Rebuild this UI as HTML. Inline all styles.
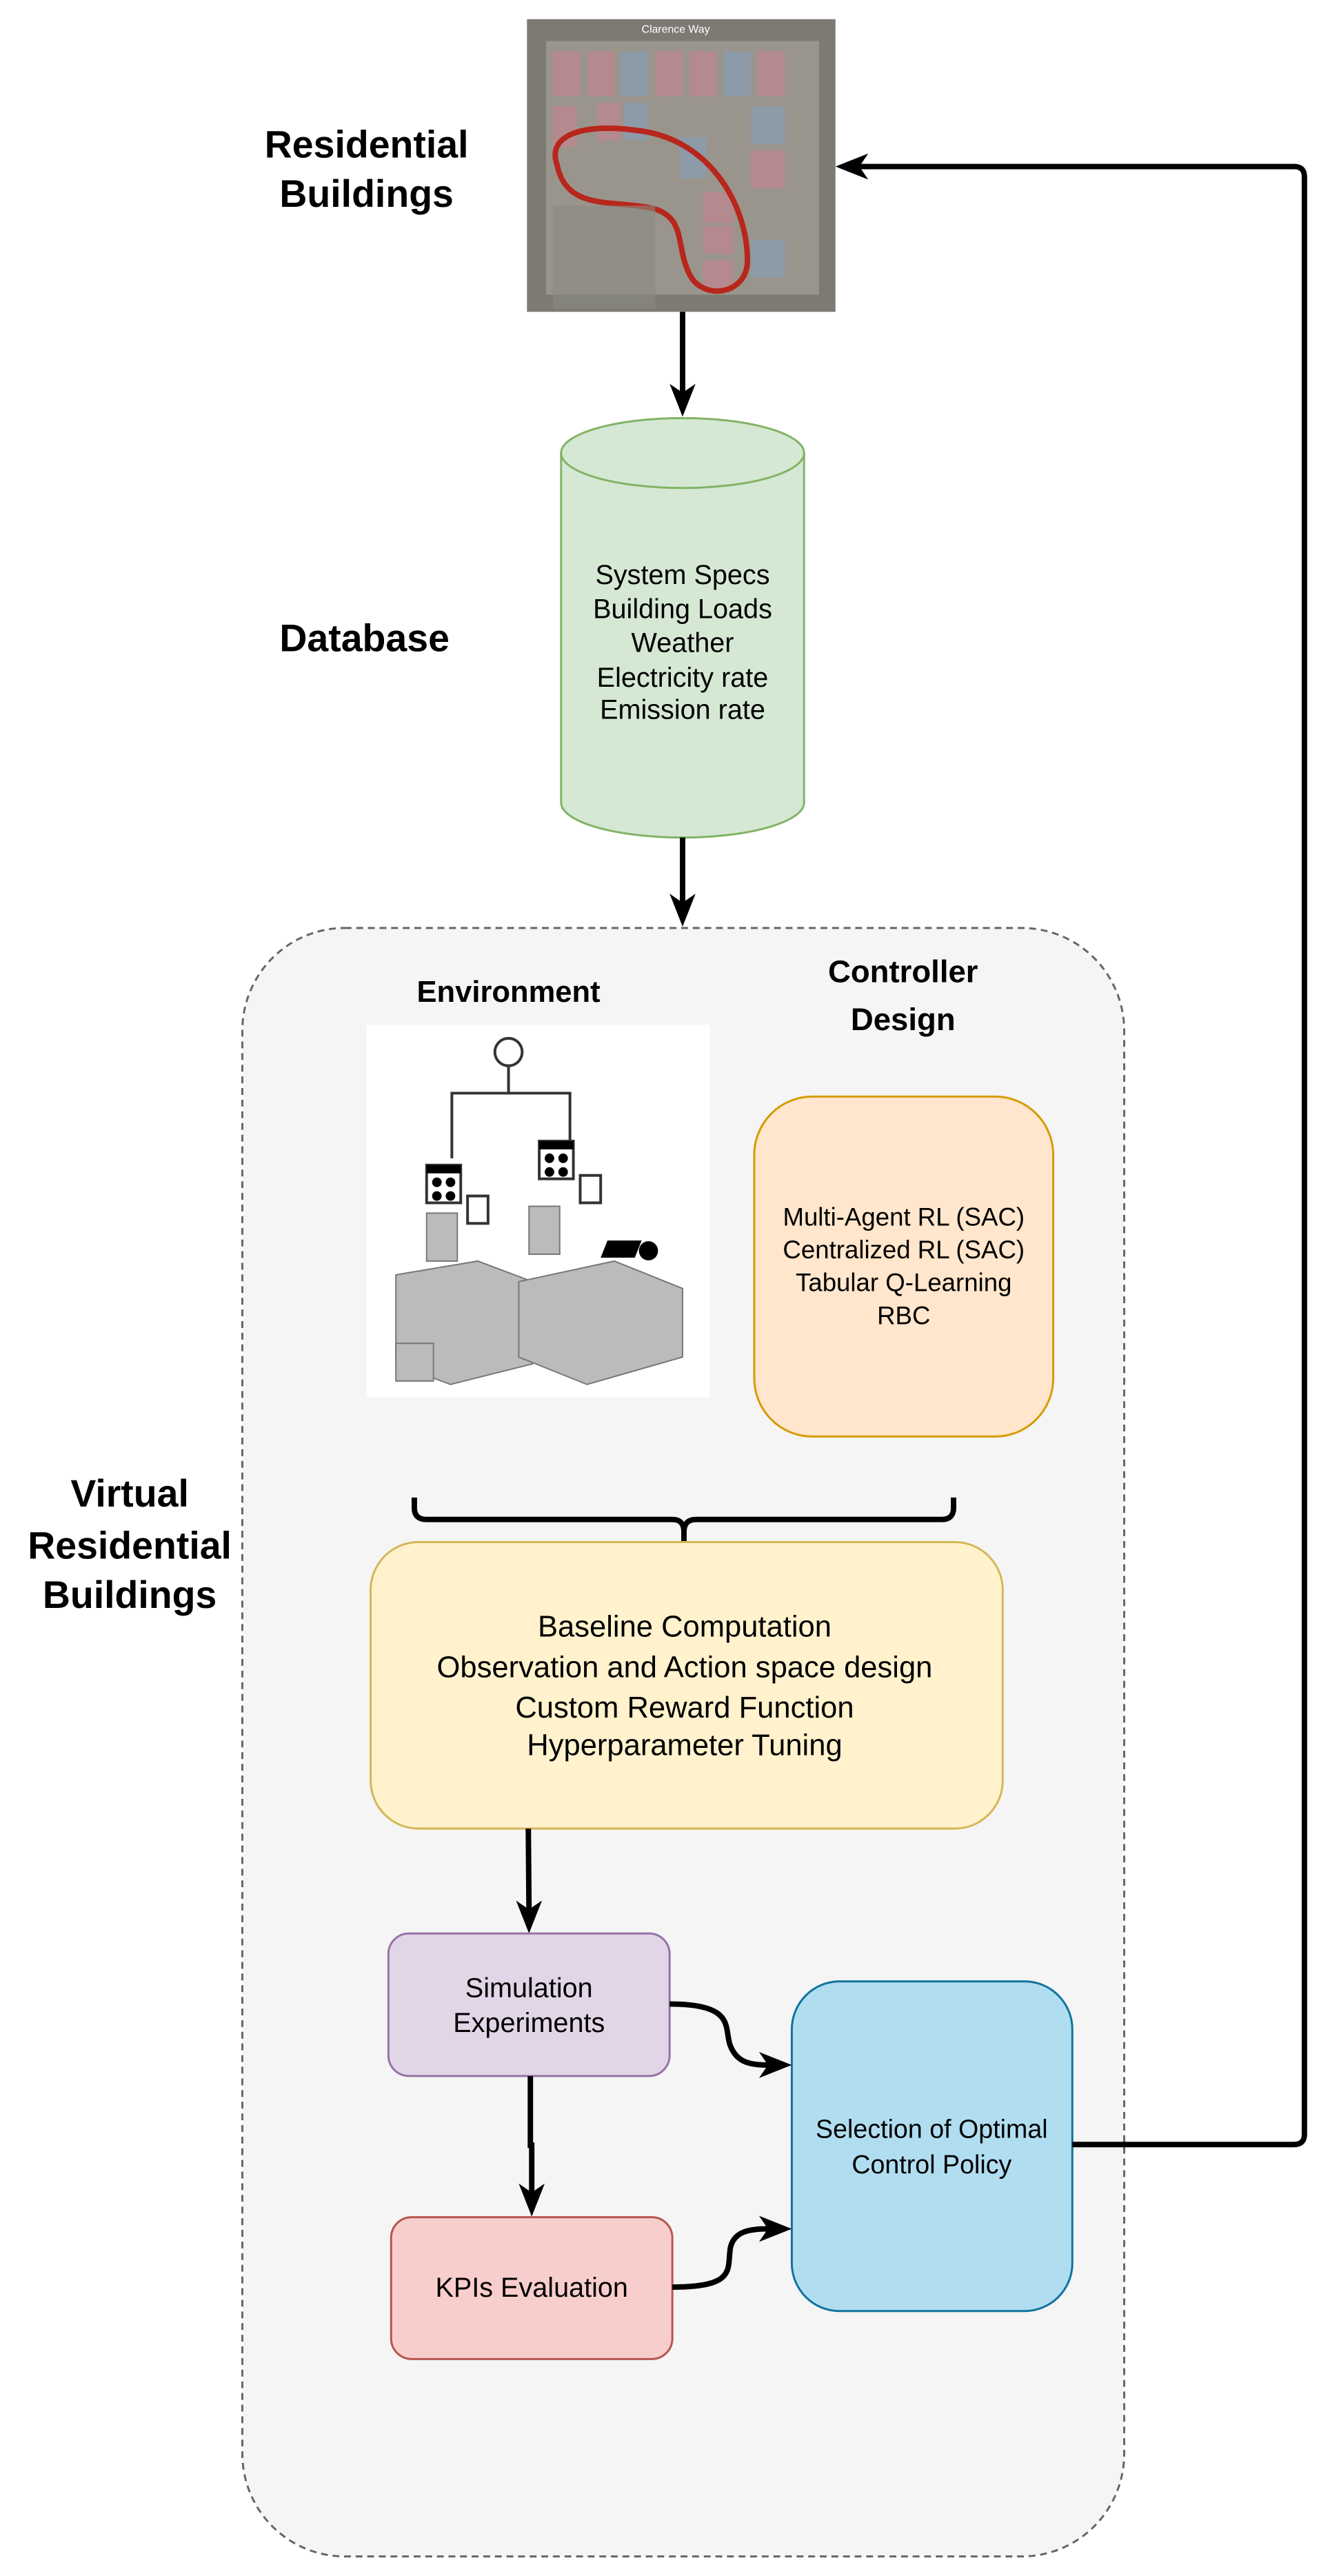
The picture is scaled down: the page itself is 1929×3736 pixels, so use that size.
<!DOCTYPE html>
<html><head><meta charset="utf-8"><style>
html,body{margin:0;padding:0;background:#fff;}
svg{display:block;}
text{font-family:"Liberation Sans",Arial,sans-serif;}
.b{font-weight:bold;fill:#000;}
</style></head><body>
<svg width="1929" height="3736" viewBox="0 0 1929 3736" xmlns="http://www.w3.org/2000/svg">
<g transform="scale(0.99,0.994)">
<!-- container -->
<rect x="355" y="1354" width="1292" height="2376" rx="150" fill="#f5f5f5" stroke="#666" stroke-width="3" stroke-dasharray="10,7"/>

<!-- Residential Buildings label -->
<text class="b" x="537" y="230" font-size="56" text-anchor="middle">Residential</text>
<text class="b" x="537" y="302" font-size="56" text-anchor="middle">Buildings</text>

<!-- aerial image -->
<g>
<rect x="772" y="28" width="452" height="427" fill="#7d7a74"/>
<rect x="800" y="60" width="400" height="370" fill="#9a958c"/>
<g fill="#b48a8e">
<rect x="810" y="75" width="40" height="65"/><rect x="860" y="75" width="40" height="65"/>
<rect x="960" y="75" width="40" height="65"/><rect x="1010" y="75" width="40" height="65"/>
<rect x="1110" y="75" width="40" height="65"/>
<rect x="810" y="155" width="35" height="60"/><rect x="875" y="150" width="35" height="55"/>
<rect x="1100" y="220" width="50" height="55"/><rect x="1030" y="280" width="45" height="45"/>
<rect x="1030" y="330" width="45" height="40"/><rect x="1030" y="380" width="45" height="40"/>
</g>
<g fill="#8d9aa8">
<rect x="910" y="75" width="40" height="65"/><rect x="1060" y="75" width="40" height="65"/>
<rect x="915" y="150" width="35" height="55"/><rect x="1100" y="155" width="50" height="55"/>
<rect x="1100" y="350" width="50" height="55"/><rect x="995" y="200" width="40" height="60"/>
</g>
<path d="M816,240 C800,195 860,180 930,190 C1040,200 1095,300 1095,380 C1095,430 1030,440 1010,400 C990,360 1005,320 960,305 C900,290 830,310 816,240 Z" fill="none" stroke="#b8261c" stroke-width="8"/>
<rect x="810" y="300" width="150" height="150" fill="#8a8a80" opacity="0.6"/>
<text x="990" y="48" font-size="16" fill="#fff" text-anchor="middle">Clarence Way</text>
</g>

<!-- arrow image -> db -->
<line x1="1000" y1="455" x2="1000" y2="575" stroke="#000" stroke-width="8"/>
<path d="M1000,608 L981,560 L1000,573 L1019,560 Z" fill="#000"/>

<!-- Database label -->
<text class="b" x="534" y="950" font-size="56" text-anchor="middle">Database</text>

<!-- cylinder -->
<path d="M822,661 L822,1171 A178,51 0 0 0 1178,1171 L1178,661" fill="#d5e8d4" stroke="#82b366" stroke-width="3"/>
<ellipse cx="1000" cy="661" rx="178" ry="51" fill="#d5e8d4" stroke="#82b366" stroke-width="3"/>
<g font-size="40" text-anchor="middle" fill="#000">
<text x="1000" y="852">System  Specs</text>
<text x="1000" y="902">Building Loads</text>
<text x="1000" y="951">Weather</text>
<text x="1000" y="1002">Electricity rate</text>
<text x="1000" y="1049">Emission rate</text>
</g>

<!-- arrow db -> container -->
<line x1="1000" y1="1222" x2="1000" y2="1320" stroke="#000" stroke-width="8"/>
<path d="M1000,1352 L981,1304 L1000,1317 L1019,1304 Z" fill="#000"/>

<!-- Environment -->
<text class="b" x="745" y="1462" font-size="44" text-anchor="middle">Environment</text>
<rect x="537" y="1495" width="503" height="544" fill="#fff"/>
<g stroke="#333" stroke-width="4" fill="none">
<circle cx="745" cy="1535" r="20"/>
<path d="M745,1555 V1595 M662,1640 V1595 H835 V1640"/>
<path d="M662,1640 V1690 M835,1640 V1690"/>
<rect x="625" y="1700" width="50" height="55" fill="#fff"/>
<rect x="790" y="1665" width="50" height="55" fill="#fff"/>
<rect x="685" y="1745" width="30" height="40"/>
<rect x="850" y="1715" width="30" height="40"/>
</g>
<g fill="#000">
<rect x="625" y="1700" width="50" height="12"/><rect x="790" y="1665" width="50" height="12"/>
<circle cx="640" cy="1725" r="7"/><circle cx="660" cy="1725" r="7"/><circle cx="640" cy="1745" r="7"/><circle cx="660" cy="1745" r="7"/>
<circle cx="805" cy="1690" r="7"/><circle cx="825" cy="1690" r="7"/><circle cx="805" cy="1710" r="7"/><circle cx="825" cy="1710" r="7"/>
<circle cx="950" cy="1825" r="14"/>
<polygon points="890,1810 940,1810 930,1835 880,1835"/>
</g>
<g fill="#bbb" stroke="#777" stroke-width="2">
<rect x="625" y="1770" width="45" height="70"/>
<rect x="775" y="1760" width="45" height="70"/>
<path d="M580,1860 L700,1840 L780,1870 L780,1990 L660,2020 L580,1990 Z"/>
<path d="M760,1870 L900,1840 L1000,1880 L1000,1980 L860,2020 L760,1980 Z"/>
<rect x="580" y="1960" width="55" height="55"/>
</g>

<!-- Controller Design -->
<text class="b" x="1323" y="1433" font-size="46" text-anchor="middle">Controller</text>
<text class="b" x="1323" y="1503" font-size="46" text-anchor="middle">Design</text>
<rect x="1105" y="1600" width="438" height="496" rx="85" fill="#ffe6cc" stroke="#d79b00" stroke-width="3"/>
<g font-size="37" text-anchor="middle" fill="#000">
<text x="1324" y="1788">Multi-Agent RL (SAC)</text>
<text x="1324" y="1836">Centralized RL (SAC)</text>
<text x="1324" y="1884">Tabular Q-Learning</text>
<text x="1324" y="1932">RBC</text>
</g>

<!-- Virtual Residential Buildings -->
<text class="b" x="190" y="2198" font-size="56" text-anchor="middle">Virtual</text>
<text class="b" x="190" y="2274" font-size="56" text-anchor="middle">Residential</text>
<text class="b" x="190" y="2346" font-size="56" text-anchor="middle">Buildings</text>

<!-- brace -->
<path d="M607,2185 V2200 Q607,2217 625,2217 H985 Q1002,2217 1002,2235 V2250 M1002,2235 Q1002,2217 1020,2217 H1380 Q1397,2217 1397,2200 V2185" fill="none" stroke="#000" stroke-width="8"/>

<!-- yellow box -->
<rect x="543" y="2250" width="926" height="418" rx="70" fill="#fff2cc" stroke="#d6b656" stroke-width="3"/>
<g font-size="44" text-anchor="middle" fill="#000">
<text x="1003" y="2388">Baseline Computation</text>
<text x="1003" y="2447">Observation and Action space design</text>
<text x="1003" y="2506">Custom Reward Function</text>
<text x="1003" y="2561">Hyperparameter Tuning</text>
</g>

<!-- arrow yellow -> sim -->
<line x1="774" y1="2668" x2="775" y2="2790" stroke="#000" stroke-width="8"/>
<path d="M775,2821 L756,2773 L775,2786 L794,2773 Z" fill="#000"/>

<!-- sim box -->
<rect x="569" y="2821" width="412" height="208" rx="30" fill="#e1d5e7" stroke="#9673a6" stroke-width="3"/>
<g font-size="40" text-anchor="middle" fill="#000">
<text x="775" y="2914">Simulation</text>
<text x="775" y="2965">Experiments</text>
</g>

<!-- arrow sim -> kpi -->
<path d="M777,3029 V3130 H779 V3200" fill="none" stroke="#000" stroke-width="8"/>
<path d="M779,3234 L760,3186 L779,3199 L798,3186 Z" fill="#000"/>

<!-- kpi box -->
<rect x="573" y="3235" width="412" height="207" rx="30" fill="#f8cecc" stroke="#b85450" stroke-width="3"/>
<text x="779" y="3351" font-size="40" text-anchor="middle" fill="#000">KPIs Evaluation</text>

<!-- selection box -->
<rect x="1160" y="2891" width="411" height="481" rx="70" fill="#b1ddf0" stroke="#10739e" stroke-width="3"/>
<g font-size="38" text-anchor="middle" fill="#000">
<text x="1365" y="3119">Selection of Optimal</text>
<text x="1365" y="3171">Control Policy</text>
</g>

<!-- curved arrows -->
<path d="M981,2924 C1080,2924 1060,2960 1070,2985 C1080,3010 1100,3013 1125,3013" fill="none" stroke="#000" stroke-width="8"/>
<path d="M1160,3013 L1112,2994 L1125,3013 L1112,3032 Z" fill="#000"/>
<path d="M985,3337 C1080,3337 1065,3310 1070,3280 C1075,3255 1100,3252 1125,3252" fill="none" stroke="#000" stroke-width="8"/>
<path d="M1160,3252 L1112,3233 L1125,3252 L1112,3271 Z" fill="#000"/>

<!-- feedback line -->
<path d="M1571,3129 H1896 Q1911,3129 1911,3114 V258 Q1911,243 1896,243 H1258" fill="none" stroke="#000" stroke-width="8"/>
<path d="M1224,243 L1272,224 L1259,243 L1272,262 Z" fill="#000"/>
</g>
</svg>
</body></html>
